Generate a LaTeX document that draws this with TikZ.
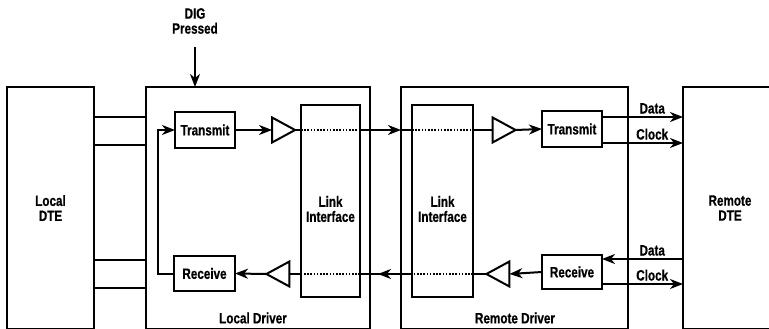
\documentclass[tikz,border=0pt]{standalone}
\usepackage{fontspec}
\setmainfont{Liberation Sans}[FakeStretch=0.78, FakeBold=0.6]
\usetikzlibrary{positioning,arrows.meta,shapes.geometric}

\begin{document}
\begin{tikzpicture}[x=1pt, y=-1pt,
  font=\bfseries\fontsize{15}{15}\selectfont,
  line width=2pt,
  blk/.style={rectangle, draw=black, line width=2pt, inner sep=0pt, outer sep=0pt, align=center},
  big/.style={blk, minimum height=242pt},
  lnk/.style={blk, minimum width=60pt, minimum height=192pt},
  unit/.style={blk, minimum width=60pt, minimum height=36pt},
  buf/.style={isosceles triangle, isosceles triangle stretches, draw=black, line width=2pt,
              inner sep=0pt, outer sep=0pt, minimum width=25pt, minimum height=23pt},
  arr/.style={-{Stealth[length=13pt,width=10pt,inset=4pt]}},
  dotln/.style={dash pattern=on 1.6pt off 1.6pt, line width=1.6pt}
]
\useasboundingbox (0,0) rectangle (769,329);

% DTEs and drivers
\node[big, minimum width=87pt]  (ldte) at (50.5,208) {Local\\DTE};
\node[big, minimum width=224pt] (ldrv) at (258,208) {};
\node[big, minimum width=227pt] (rdrv) at (514.5,208) {};
\node[big, minimum width=94pt]  (rdte) at (730,208) {Remote\\DTE};
\node (ldrvlbl) at (253,318) {Local Driver};
\node (rdrvlbl) at (515,318) {Remote Driver};
\node[align=center] (dig) at (195,21) {DIG\\Pressed};

% link interfaces
\node[lnk, minimum width=59pt, label={[yshift=-8pt,align=center]center:Link\\Interface}] (lli) at (330.5,201) {};
\node[lnk, minimum width=61pt, label={[yshift=-8pt,align=center]center:Link\\Interface}] (rli) at (442.5,201) {};

% transmit / receive
\node[unit] (ltrn) at (205,130) {Transmit};
\node[unit, minimum width=61pt, minimum height=35pt] (lrcv) at (204.5,273.5) {Receive};
\node[unit] (rtrn) at (572,129) {Transmit};
\node[unit, minimum height=34pt] (rrcv) at (572,272) {Receive};

% buffers
\node[buf] (ltx) at (279.5,130) {};
\node[buf, shape border rotate=180] (lrx) at (282,274) {};
\node[buf] (rtx) at (500,130) {};
\node[buf, shape border rotate=180] (rrx) at (502,274) {};

% local DTE wires
\draw (ldte.east |- 0,117) -- (ldrv.west |- 0,117);
\draw (ldte.east |- 0,145) -- (ldrv.west |- 0,145);
\draw (ldte.east |- 0,260) -- (ldrv.west |- 0,260);
\draw (ldte.east |- 0,288) -- (ldrv.west |- 0,288);

\draw[arr] ([yshift=-9pt]dig.south) -- (dig.south |- ldrv.north);

% transmit path
\draw[arr] (ltrn.east) -- (ltx.west);
\draw (ltx.east) -- (lli.west |- ltx.east);
\draw[dotln] (lli.west |- ltx.east) -- (lli.east |- ltx.east);
\draw[arr] (lli.east |- ltx.east) -- (rdrv.west |- ltx.east);
\draw (rdrv.west |- ltx.east) -- (rli.west |- ltx.east);
\draw[dotln] (rli.west |- ltx.east) -- (rli.east |- ltx.east);
\draw (rli.east |- ltx.east) -- (rtx.west);
\draw[arr] (rtx.east) -- (rtrn.west);
\draw[arr] (rtrn.east |- 0,117) -- node[pos=0.62, above=-1pt] (td) {Data} (rdte.west |- 0,117);
\draw[arr] (rtrn.east |- 0,143) -- node[pos=0.62, above=-1pt] (tc) {Clock} (rdte.west |- 0,143);

% receive path
\draw[arr] (rdte.west |- 0,259) -- node[pos=0.38, above=-1pt] (rd) {Data} (rrcv.east |- 0,259);
\draw[arr] (rrcv.east |- 0,284) -- node[pos=0.62, above=-1pt] (rc) {Clock} (rdte.west |- 0,284);
\draw[arr] (rrcv.west) -- (rrx.east);
\draw (rrx.west) -- (rli.east |- rrx.west);
\draw[dotln] (rli.east |- rrx.west) -- (rli.west |- rrx.west);
\draw (rli.west |- rrx.west) -- (lli.east |- rrx.west);
\draw[arr] (rli.west |- rrx.west) -- ++(-34,0);
\draw[dotln] (lli.east |- rrx.west) -- (lli.west |- rrx.west);
\draw (lli.west |- rrx.west) -- (lrx.east);
\draw[arr] (lrx.west) -- (lrcv.east);
\draw[arr] (lrcv.west) -- ++(-16,0) |- (ltrn.west);
\end{tikzpicture}
\end{document}
